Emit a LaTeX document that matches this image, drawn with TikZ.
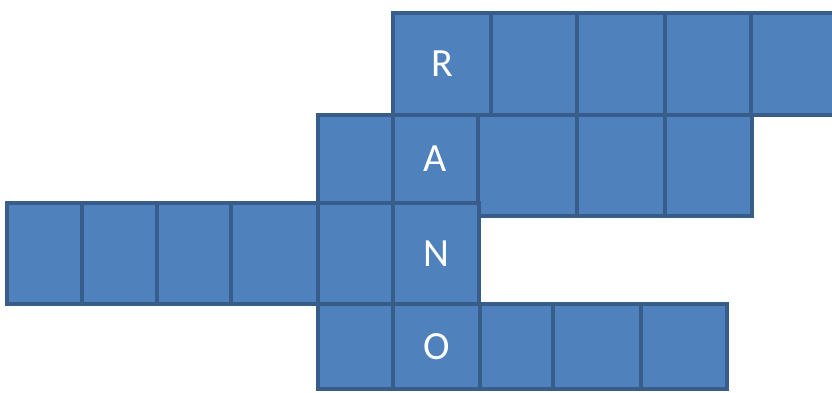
\documentclass[tikz,border=0pt]{standalone}
\usepackage{fontspec}
\setmainfont{Carlito}
\definecolor{cellfill}{HTML}{4F81BD}
\definecolor{celledge}{HTML}{385D8A}
\begin{document}
\begin{tikzpicture}[x=1pt,y=-1pt,
  cell/.style={draw=celledge, fill=cellfill, line width=3.5pt, inner sep=0pt,
    text=white, font=\fontsize{40}{40}\selectfont},
  rowA/.style={cell, minimum height=102pt},
  rowB/.style={cell, minimum height=88pt},
  rowBr/.style={cell, minimum height=101pt},
  rowC/.style={cell, minimum height=101pt},
  rowD/.style={cell, minimum height=85pt}]
\useasboundingbox (0,0) rectangle (832,392);
% row 1
\node[rowA, minimum width=98pt] (a1) at (442,64) {R};
\node[rowA, minimum width=86pt] (a2) at (534,64) {};
\node[rowA, minimum width=88pt] (a3) at (621,64) {};
\node[rowA, minimum width=86pt] (a4) at (708,64) {};
\node[rowA, minimum width=88pt] (a5) at (795,64) {};
% row 2
\node[rowB, minimum width=75pt] (b1) at (355.5,159) {};
\node[rowB, minimum width=85pt] (b2) at (435.5,159) {A};
\node[rowBr, minimum width=99pt] (b3) at (527.5,165.5) {};
\node[rowBr, minimum width=88pt] (b4) at (621,165.5) {};
\node[rowBr, minimum width=87pt] (b5) at (708.5,165.5) {};
% row 3
\node[rowC, minimum width=75pt] (c1) at (44.5,253.5) {};
\node[rowC, minimum width=75pt] (c2) at (119.5,253.5) {};
\node[rowC, minimum width=74pt] (c3) at (194,253.5) {};
\node[rowC, minimum width=87pt] (c4) at (274.5,253.5) {};
\node[rowC, minimum width=75pt] (c5) at (355.5,253.5) {};
\node[rowC, minimum width=86pt] (c6) at (436,253.5) {N};
% row 4
\node[rowD, minimum width=75pt] (d1) at (355.5,346.5) {};
\node[rowD, minimum width=87pt] (d2) at (436.5,346.5) {O};
\node[rowD, minimum width=73pt] (d3) at (516.5,346.5) {};
\node[rowD, minimum width=88pt] (d4) at (597,346.5) {};
\node[rowD, minimum width=86pt] (d5) at (684,346.5) {};
\end{tikzpicture}
\end{document}
